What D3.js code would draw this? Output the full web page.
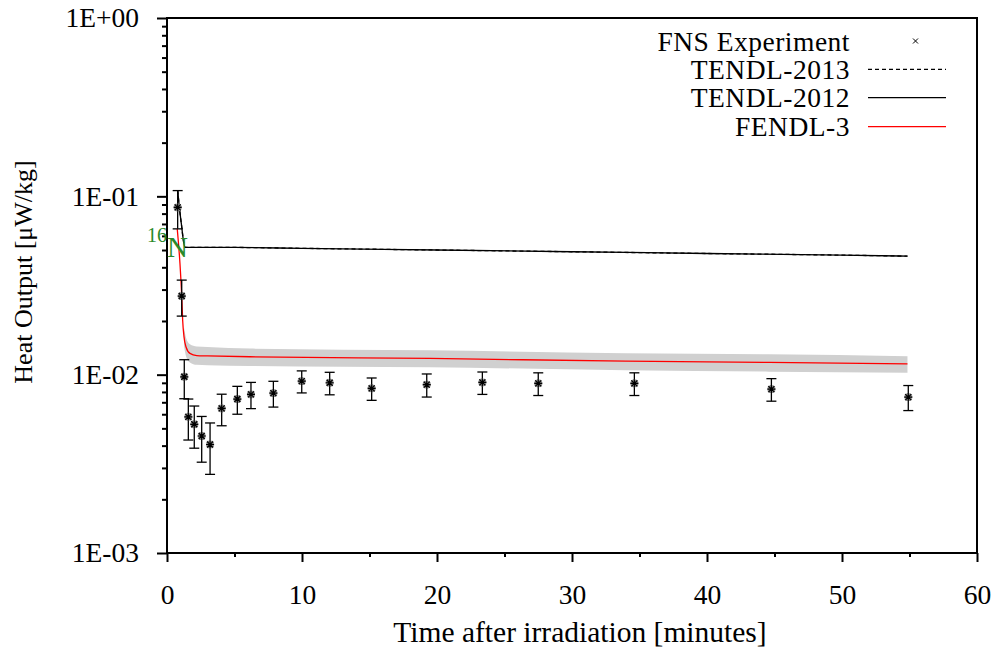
<!DOCTYPE html>
<html>
<head>
<meta charset="utf-8">
<script src="https://cdn.jsdelivr.net/npm/d3@7"></script>
<style>
  html, body { margin: 0; padding: 0; background: #fff; }
  svg { display: block; }
  text { font-family: "Liberation Serif", "Times New Roman", serif; }
</style>
</head>
<body>
<svg id="chart" width="1001" height="651"></svg>
<script>
// ---------------- data ----------------
const xTicks = [0, 10, 20, 30, 40, 50, 60];
const yTicks = [1, 0.1, 0.01, 0.001];
const yTickLabels = ["1E+00", "1E-01", "1E-02", "1E-03"];

// FNS experiment
const expTime  = [0.79, 1.09, 1.28, 1.58, 2.02, 2.57, 3.19, 4.05, 5.21, 6.22, 7.88, 9.98, 12.05, 15.16, 19.24, 23.36, 27.5, 34.62, 44.77, 54.91];
const expValue = [0.0867, 0.0276, 0.00973, 0.0058, 0.00527, 0.00453, 0.00406, 0.00647, 0.0073, 0.00775, 0.00788, 0.0092, 0.00901, 0.00838, 0.00879, 0.00905, 0.00894, 0.00894, 0.0083, 0.00749];
const expError = [0.021, 0.0063, 0.0024, 0.0015, 0.0014, 0.0013, 0.0013, 0.0013, 0.0013, 0.0013, 0.0013, 0.0013, 0.0013, 0.0012, 0.0013, 0.0013, 0.0013, 0.0013, 0.0012, 0.0012];

// TENDL-2013 / TENDL-2012 (coincide)
const tendlTime   = [0.79, 0.91, 1.09, 1.21, 1.33, 5, 10, 20, 30, 40, 50, 54.85];
const tendl2013   = [0.108, 0.0875, 0.0675, 0.0569, 0.0518, 0.0517, 0.0511, 0.0500, 0.0489, 0.0478, 0.0468, 0.0462];
const tendl2012   = [0.108, 0.0875, 0.0675, 0.0569, 0.0518, 0.0517, 0.0511, 0.0500, 0.0489, 0.0478, 0.0468, 0.0462];

// FENDL-3 with uncertainty band
const fendlTime  = [0.76, 0.96, 1.09, 1.16, 1.26, 1.41, 1.7, 2.2, 3.0, 6.15, 19.5, 34, 44.6, 54.85];
const fendl3     = [0.0656, 0.042, 0.0276, 0.0202, 0.0163, 0.0143, 0.01316, 0.0128, 0.01275, 0.0126, 0.01233, 0.0119, 0.01172, 0.0115];
const bandTime   = [1.26, 1.41, 1.7, 2.2, 3.0, 6.15, 19.5, 34, 44.6, 54.85];
const bandHigh   = [0.0183, 0.0161, 0.0148, 0.0144, 0.0143, 0.0140, 0.0137, 0.0132, 0.0130, 0.0127];
const bandLow    = [0.0145, 0.0127, 0.0117, 0.01135, 0.0113, 0.0112, 0.0110, 0.0106, 0.0104, 0.01025];

const seriesNames = ["FNS Experiment", "TENDL-2013", "TENDL-2012", "FENDL-3"];

// ---------------- layout ----------------
const L = 167, T = 18, R = 977, B = 553;
const svg = d3.select("#chart");
const x = d3.scaleLinear().domain([0, 60]).range([L, R]);
const y = d3.scaleLog().domain([0.001, 1]).range([B, T]);
const FS = 27.5;

// band
const bandData = bandTime.map((t, i) => ({t, lo: bandLow[i], hi: bandHigh[i]}));
svg.append("path")
  .datum(bandData)
  .attr("fill", "#d0d0d0")
  .attr("d", d3.area().x(d => x(d.t)).y0(d => y(d.lo)).y1(d => y(d.hi)).curve(d3.curveMonotoneX));

const line = d3.line().x(d => x(d[0])).y(d => y(d[1])).curve(d3.curveMonotoneX);

svg.append("path").datum(fendlTime.map((t, i) => [t, fendl3[i]]))
  .attr("fill", "none").attr("stroke", "#ff0000").attr("stroke-width", 1.3).attr("d", line);
svg.append("path").datum(tendlTime.map((t, i) => [t, tendl2012[i]]))
  .attr("fill", "none").attr("stroke", "#000").attr("stroke-width", 1.3).attr("d", line);
svg.append("path").datum(tendlTime.map((t, i) => [t, tendl2013[i]]))
  .attr("fill", "none").attr("stroke", "#000").attr("stroke-width", 1.3)
  .attr("stroke-dasharray", "4,3").attr("d", line);

// error bars and markers
const exp = expTime.map((t, i) => ({t, v: expValue[i], e: expError[i]}));
const eg = svg.append("g");
exp.forEach(d => {
  const cx = x(d.t), yt = y(d.v + d.e), yb = y(d.v - d.e);
  eg.append("line").attr("x1", cx).attr("x2", cx).attr("y1", yt).attr("y2", yb)
    .attr("stroke", "#000").attr("stroke-width", 1.3);
  [yt, yb].forEach(yy => eg.append("line").attr("x1", cx - 5).attr("x2", cx + 5)
    .attr("y1", yy).attr("y2", yy).attr("stroke", "#000").attr("stroke-width", 1.3));
  const cy = y(d.v), r = 4;
  const star = `M${cx - r},${cy}L${cx + r},${cy}M${cx},${cy - r}L${cx},${cy + r}` +
    `M${cx - r * 0.75},${cy - r * 0.75}L${cx + r * 0.75},${cy + r * 0.75}` +
    `M${cx - r * 0.75},${cy + r * 0.75}L${cx + r * 0.75},${cy - r * 0.75}`;
  eg.append("path").attr("d", star).attr("stroke", "#888").attr("stroke-width", 2.6).attr("fill", "none");
  eg.append("path").attr("d", star).attr("stroke", "#000").attr("stroke-width", 1.2).attr("fill", "none");
});

// frame
svg.append("rect").attr("x", L).attr("y", T).attr("width", R - L).attr("height", B - T)
  .attr("fill", "none").attr("stroke", "#000").attr("stroke-width", 2);

// x axis
const xAxis = d3.axisBottom(x).tickValues(xTicks).tickSize(9).tickPadding(22).tickFormat(d3.format("d"));
const gx = svg.append("g").attr("transform", `translate(0,${B})`).call(xAxis);
gx.select(".domain").remove();
gx.selectAll(".tick line").attr("stroke-width", 2);
gx.selectAll(".tick text").attr("font-size", FS).attr("font-family", "Liberation Serif").style("fill", "#000");
const gxm = svg.append("g").attr("transform", `translate(0,${B})`)
  .call(d3.axisBottom(x).tickValues(d3.range(5, 60, 10)).tickSize(4).tickFormat(""));
gxm.select(".domain").remove();
gxm.selectAll(".tick line").attr("stroke-width", 2);

// y axis
const yAxis = d3.axisLeft(y).tickValues(yTicks).tickSize(10).tickPadding(18)
  .tickFormat((d, i) => yTickLabels[i]);
const gy = svg.append("g").attr("transform", `translate(${L},0)`).call(yAxis);
gy.select(".domain").remove();
gy.selectAll(".tick line").attr("stroke-width", 2);
gy.selectAll(".tick text").attr("font-size", FS).attr("font-family", "Liberation Serif").style("fill", "#000");
const minorY = [];
[0.001, 0.01, 0.1].forEach(dec => { for (let k = 2; k <= 9; k++) minorY.push(dec * k); });
const gym = svg.append("g").attr("transform", `translate(${L},0)`)
  .call(d3.axisLeft(y).tickValues(minorY).tickSize(5).tickFormat(""));
gym.select(".domain").remove();
gym.selectAll(".tick line").attr("stroke-width", 2);

// axis titles
svg.append("text").attr("x", 580).attr("y", 642).attr("text-anchor", "middle")
  .attr("font-size", 29.5).style("fill", "#000").text("Time after irradiation [minutes]");
svg.append("text").attr("transform", `translate(32,${272}) rotate(-90)`).attr("text-anchor", "middle")
  .attr("font-size", 26).style("fill", "#000").text("Heat Output [μW/kg]");

// 16N label
svg.append("text").attr("x", 147).attr("y", 242).style("fill", "#2a8a2a")
  .attr("font-size", 20).text("16");
svg.append("text").attr("x", 167).attr("y", 257).style("fill", "#2a8a2a")
  .attr("font-size", 29).text("N");

// legend
const legY = [41, 69.3, 97.7, 126.7];
const lg = svg.append("g");
seriesNames.forEach((name, i) => {
  lg.append("text").attr("x", 850).attr("y", legY[i] + 9.5).attr("text-anchor", "end")
    .attr("font-size", 27.5).attr("letter-spacing", "0.5px").style("fill", "#000").text(name);
});
lg.append("path").attr("d", `M913,${legY[0] - 2.5}L918,${legY[0] + 2.5}M913,${legY[0] + 2.5}L918,${legY[0] - 2.5}`)
  .attr("stroke", "#000").attr("stroke-width", 1);
lg.append("line").attr("x1", 868).attr("x2", 946).attr("y1", legY[1]).attr("y2", legY[1])
  .attr("stroke", "#000").attr("stroke-width", 1.2).attr("stroke-dasharray", "4,3");
lg.append("line").attr("x1", 868).attr("x2", 946).attr("y1", legY[2]).attr("y2", legY[2])
  .attr("stroke", "#000").attr("stroke-width", 1.2);
lg.append("line").attr("x1", 868).attr("x2", 946).attr("y1", legY[3]).attr("y2", legY[3])
  .attr("stroke", "#ff0000").attr("stroke-width", 1.2);
</script>
</body>
</html>
